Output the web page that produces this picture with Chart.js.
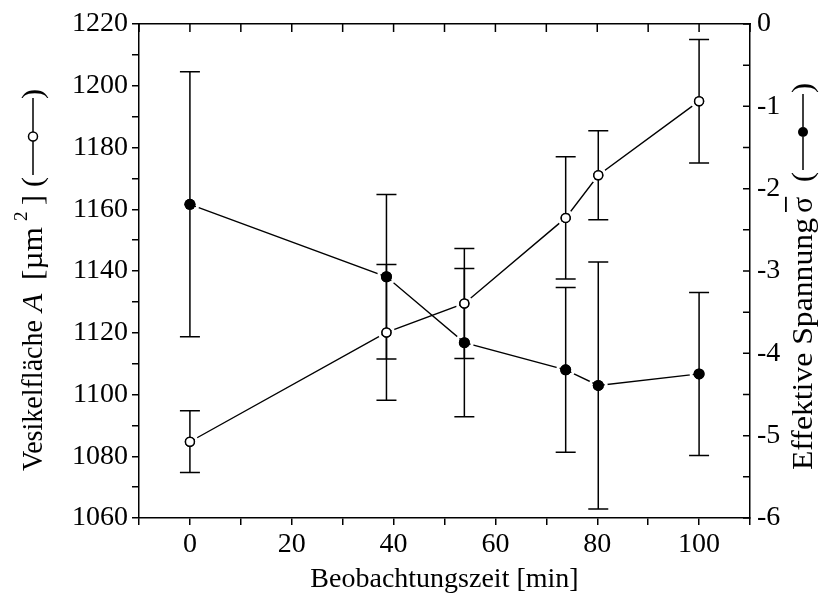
<!DOCTYPE html>
<html lang="de">
<head>
  <meta charset="UTF-8" />
  <title>Vesikelfläche und effektive Spannung</title>
  <script src="https://cdn.jsdelivr.net/npm/chart.js"></script>
  <style>
    body { margin: 0; background: #fff; }
    canvas { display: block; }
  </style>
</head>
<body>
  <canvas id="chart" width="822" height="596"></canvas>

  <script>
    // Beobachtungszeit [min]
    const times = [0, 38.6, 53.9, 73.8, 80.2, 100];
    // Vesikelfläche A [µm²] (offene Kreise, linke Achse)
    const area = [1084.7, 1120.1, 1129.5, 1157.2, 1171, 1195];
    const areaErr = [10, 22, 17.8, 19.8, 14.4, 20];
    // Effektive Spannung (gefüllte Kreise, rechte Achse)
    const sigma = [-2.19, -3.07, -3.87, -4.2, -4.39, -4.25];
    const sigmaErr = [1.61, 1.0, 0.9, 1.0, 1.5, 0.99];

    const FONT = "'Liberation Serif', 'Times New Roman', serif";
    const tickFont = { family: FONT, size: 28 };

    function drawErrorBars(chart) {
      const ctx = chart.ctx;
      ctx.save();
      ctx.strokeStyle = "#000";
      ctx.lineWidth = 1.5;
      chart.data.datasets.forEach(ds => {
        const xs = chart.scales[ds.xAxisID];
        const ys = chart.scales[ds.yAxisID];
        ds.data.forEach((p, i) => {
          const e = ds.errors[i];
          const x = xs.getPixelForValue(p.x);
          const top = ys.getPixelForValue(p.y + e);
          const bot = ys.getPixelForValue(p.y - e);
          ctx.beginPath();
          ctx.moveTo(x, top); ctx.lineTo(x, bot);
          ctx.moveTo(x - 10, top); ctx.lineTo(x + 10, top);
          ctx.moveTo(x - 10, bot); ctx.lineTo(x + 10, bot);
          ctx.stroke();
        });
      });
      ctx.restore();
    }

    // white gap between connecting lines and markers, error bars on top, then markers again
    const markers = {
      id: "markers",
      afterDatasetsDraw(chart) {
        const ctx = chart.ctx;
        ctx.save();
        ctx.strokeStyle = "#fff";
        ctx.lineWidth = 3;
        chart.data.datasets.forEach((ds, di) => {
          chart.getDatasetMeta(di).data.forEach(pt => {
            ctx.beginPath();
            ctx.arc(pt.x, pt.y, ds.pointRadius + 2.5, 0, Math.PI * 2);
            ctx.stroke();
          });
        });
        ctx.restore();
        drawErrorBars(chart);
        chart.data.datasets.forEach((ds, di) => {
          chart.getDatasetMeta(di).data.forEach(pt => pt.draw(ctx, chart.chartArea));
        });
      }
    };

    // inward ticks on the top and right frame
    const innerTicks = {
      id: "innerTicks",
      afterDraw(chart) {
        const ctx = chart.ctx;
        const a = chart.chartArea;
        ctx.save();
        ctx.strokeStyle = "#000";
        ctx.lineWidth = 1.5;
        ctx.beginPath();
        chart.scales.xTop.ticks.forEach(t => {
          const x = chart.scales.xTop.getPixelForValue(t.value);
          ctx.moveTo(x, a.top); ctx.lineTo(x, a.top + 8);
        });
        chart.scales.yS.ticks.forEach(t => {
          const y = chart.scales.yS.getPixelForValue(t.value);
          ctx.moveTo(a.right, y); ctx.lineTo(a.right - 7, y);
        });
        ctx.stroke();
        ctx.restore();
      }
    };

    // rotated axis titles: pieces placed along the text direction
    function drawPieces(ctx, pieces) {
      pieces.forEach(p => {
        if (p.text !== undefined) {
          ctx.font = (p.italic ? "italic " : "") + p.size + "px " + FONT;
          const w = ctx.measureText(p.text).width;
          const sx = p.width ? p.width / w : 1;
          ctx.save();
          ctx.translate(p.at, 0);
          ctx.scale(sx, 1);
          ctx.fillText(p.text, 0, p.dy || 0);
          if (p.bar) ctx.fillRect(1, -19, w - 1, 1.8);
          ctx.restore();
        } else {
          const r = p.r, x0 = p.at, c = x0 + p.len + r;
          ctx.lineWidth = 1.5;
          ctx.beginPath();
          ctx.moveTo(x0, -1); ctx.lineTo(x0 + p.len, -1);
          ctx.moveTo(c + r, -1); ctx.lineTo(c + r + p.len, -1);
          ctx.stroke();
          ctx.beginPath();
          ctx.arc(c, -1, r, 0, Math.PI * 2);
          if (p.symbol === "open") {
            ctx.fillStyle = "#fff"; ctx.fill();
            ctx.fillStyle = "#000"; ctx.stroke();
          } else {
            ctx.fill();
          }
        }
      });
    }

    const axisTitles = {
      id: "axisTitles",
      afterDraw(chart) {
        const ctx = chart.ctx;
        ctx.save();
        ctx.fillStyle = "#000";
        ctx.strokeStyle = "#000";
        ctx.textBaseline = "middle";
        ctx.textAlign = "left";

        ctx.save();
        ctx.translate(34, 471);
        ctx.rotate(-Math.PI / 2);
        drawPieces(ctx, [
          { text: "Vesikelfläche", size: 30, width: 151, at: 0 },
          { text: "A", size: 30, italic: true, at: 159 },
          { text: "[µm", size: 30, width: 53, at: 191 },
          { text: "2", size: 19, at: 250, dy: -12 },
          { text: "]", size: 30, at: 266 },
          { text: "(", size: 30, at: 284 },
          { symbol: "open", r: 4.5, len: 34, at: 296 },
          { text: ")", size: 30, at: 372 }
        ]);
        ctx.restore();

        ctx.save();
        ctx.translate(804, 470);
        ctx.rotate(-Math.PI / 2);
        drawPieces(ctx, [
          { text: "Effektive Spannung", size: 30, width: 252, at: 0 },
          { text: "σ", size: 30, bar: true, at: 257 },
          { text: "(", size: 30, at: 288 },
          { symbol: "filled", r: 5, len: 33, at: 300 },
          { text: ")", size: 30, at: 377 }
        ]);
        ctx.restore();

        ctx.restore();
      }
    };

    new Chart(document.getElementById("chart"), {
      type: "line",
      data: {
        datasets: [
          {
            label: "Vesikelfläche",
            data: times.map((t, i) => ({ x: t, y: area[i] })),
            errors: areaErr,
            xAxisID: "x",
            yAxisID: "yA",
            borderColor: "#000",
            borderWidth: 1.4,
            tension: 0,
            pointRadius: 4.5,
            pointBackgroundColor: "#fff",
            pointBorderColor: "#000",
            pointBorderWidth: 1.5
          },
          {
            label: "Effektive Spannung",
            data: times.map((t, i) => ({ x: t, y: sigma[i] })),
            errors: sigmaErr,
            xAxisID: "x",
            yAxisID: "yS",
            borderColor: "#000",
            borderWidth: 1.4,
            tension: 0,
            pointRadius: 5.5,
            pointBackgroundColor: "#000",
            pointBorderColor: "#000",
            pointBorderWidth: 0
          }
        ]
      },
      options: {
        responsive: false,
        animation: false,
        devicePixelRatio: 1,
        layout: { padding: 0 },
        plugins: { legend: { display: false }, tooltip: { enabled: false } },
        scales: {
          x: {
            type: "linear", position: "bottom", min: -10, max: 110,
            ticks: {
              stepSize: 10, autoSkip: false, maxRotation: 0, color: "#000",
              font: tickFont, padding: 3,
              callback: v => (v % 20 === 0 ? String(v) : "")
            },
            grid: { drawOnChartArea: false, drawTicks: true, tickLength: 7, color: "#000", lineWidth: 1.5 },
            border: { color: "#000", width: 1.5 },
            title: {
              display: true, text: "Beobachtungszeit [min]", color: "#000",
              font: { family: FONT, size: 28 }, padding: { top: 0, bottom: 0 }
            },
            afterFit: s => { s.height = 78; }
          },
          xTop: {
            type: "linear", position: "top", min: -10, max: 110,
            ticks: { display: false, stepSize: 10 },
            grid: { display: false },
            border: { display: true, color: "#000", width: 1.5 },
            afterFit: s => { s.height = 24; }
          },
          yA: {
            type: "linear", position: "left", min: 1060, max: 1220,
            ticks: {
              stepSize: 10, autoSkip: false, color: "#000", font: tickFont, padding: 4,
              callback: v => (v % 20 === 0 ? String(v) : "")
            },
            grid: { drawOnChartArea: false, drawTicks: true, tickLength: 7, color: "#000", lineWidth: 1.5 },
            border: { color: "#000", width: 1.5 },
            afterFit: s => { s.width = 139; }
          },
          yS: {
            type: "linear", position: "right", min: -6, max: 0,
            ticks: {
              stepSize: 0.5, autoSkip: false, color: "#000", font: tickFont, padding: 7,
              callback: v => (Number.isInteger(v) ? String(v) : "")
            },
            grid: { display: true, drawOnChartArea: false, drawTicks: false },
            border: { color: "#000", width: 1.5 },
            afterFit: s => { s.width = 72; }
          }
        }
      },
      plugins: [markers, innerTicks, axisTitles]
    });
  </script>
</body>
</html>
